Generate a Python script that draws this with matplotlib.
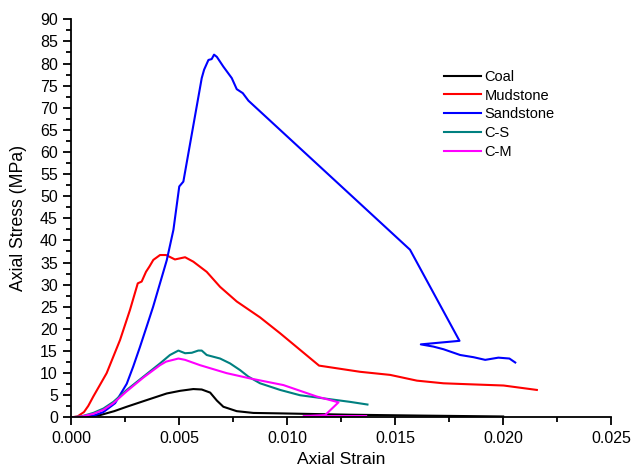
import matplotlib
matplotlib.use("Agg")
import matplotlib.pyplot as plt
from matplotlib.ticker import MultipleLocator, FormatStrFormatter

plt.rcParams['font.family'] = ['Liberation Sans', 'DejaVu Sans']

coal_x = [0, 0.0007, 0.00134, 0.0020, 0.00258, 0.00350, 0.00443, 0.00505, 0.00566,
          0.00605, 0.00644, 0.00675, 0.00705, 0.00767, 0.00844, 0.00968, 0.0129,
          0.0162, 0.0200]
coal_y = [0, 0.15, 0.5, 1.4, 2.4, 3.9, 5.4, 6.0, 6.4, 6.3, 5.6, 3.8, 2.4, 1.4, 1.0, 0.9,
          0.6, 0.4, 0.2]

mud_x = [0, 0.0003, 0.0006, 0.0008, 0.00103, 0.0013, 0.00165, 0.00227, 0.00273,
         0.00309, 0.00327, 0.00347, 0.00363, 0.00381, 0.00412, 0.00440, 0.00481,
         0.00528, 0.00566, 0.00628, 0.00690, 0.00767, 0.00875, 0.00968, 0.01148,
         0.01338, 0.01477, 0.01601, 0.01724, 0.01832, 0.02002, 0.02156]
mud_y = [0, 0.2, 1.2, 2.6, 4.7, 7.0, 10.0, 17.5, 24.3, 30.3, 30.7, 32.9, 34.1, 35.6,
         36.7, 36.7, 35.7, 36.2, 35.2, 32.9, 29.5, 26.2, 22.6, 19.0, 11.7, 10.3, 9.6,
         8.3, 7.7, 7.5, 7.2, 6.2]

sand_x = [0, 0.0005, 0.0010, 0.0015, 0.00204, 0.00258, 0.00288, 0.00319, 0.0035,
          0.00380, 0.00443, 0.00474, 0.00501, 0.00520, 0.00605, 0.00616, 0.00636,
          0.00651, 0.00662, 0.00675, 0.00705, 0.00744, 0.00767, 0.00795, 0.00821,
          0.01569, 0.01798, 0.01619, 0.01677, 0.01724, 0.01801, 0.01863, 0.01917,
          0.01978, 0.02029, 0.02056]
sand_y = [0, 0.05, 0.3, 1.2, 3.2, 7.6, 11.5, 15.9, 20.5, 25.0, 35.5, 42.4, 52.2, 53.3,
          76.7, 78.6, 80.8, 81.0, 82.0, 81.5, 79.3, 76.7, 74.2, 73.3, 71.6, 37.9, 17.3,
          16.5, 16.0, 15.4, 14.1, 13.6, 13.0, 13.5, 13.3, 12.4]

cs_x = [0, 0.0005, 0.00103, 0.00150, 0.00196, 0.00258, 0.00335, 0.00412, 0.00458,
        0.00497, 0.00528, 0.00559, 0.00589, 0.00605, 0.00628, 0.00690, 0.00736,
        0.00782, 0.00821, 0.00875, 0.00968, 0.01060, 0.01168, 0.01292, 0.01372]
cs_y = [0, 0.25, 1.0, 2.0, 3.5, 6.2, 9.2, 12.2, 14.1, 15.1, 14.5, 14.6, 15.1, 15.1, 14.1,
        13.3, 12.2, 10.7, 9.2, 7.7, 6.2, 5.0, 4.3, 3.5, 2.9]

cm_x = [0, 0.0005, 0.00103, 0.00150, 0.00196, 0.00258, 0.00335, 0.00412, 0.00440,
        0.00497, 0.00528, 0.00597, 0.00720, 0.00829, 0.00983, 0.01138, 0.01238,
        0.01176, 0.01076, 0.01366]
cm_y = [0, 0.2, 0.8, 1.7, 3.2, 5.9, 9.0, 11.8, 12.6, 13.3, 13.0, 11.8, 10.0, 8.8, 7.3,
        4.7, 3.4, 0.5, 0.3, 0.3]

series = [("Coal", coal_x, coal_y, "#000000"),
          ("Mudstone", mud_x, mud_y, "#ff0000"),
          ("Sandstone", sand_x, sand_y, "#0000ff"),
          ("C-S", cs_x, cs_y, "#008080"),
          ("C-M", cm_x, cm_y, "#ff00ff")]

fig = plt.figure(figsize=(6.34, 4.70), dpi=100)
ax = fig.add_axes([0.112, 0.112, 0.852, 0.847])

for name, xs, ys, c in series:
    ax.plot(xs, ys, color=c, lw=1.5, label=name)

ax.set_xlim(0, 0.025)
ax.set_ylim(0, 90)
ax.xaxis.set_major_locator(MultipleLocator(0.005))
ax.xaxis.set_minor_locator(MultipleLocator(0.0025))
ax.yaxis.set_major_locator(MultipleLocator(5))
ax.yaxis.set_minor_locator(MultipleLocator(2.5))
ax.xaxis.set_major_formatter(FormatStrFormatter('%.3f'))
ax.yaxis.set_major_formatter(FormatStrFormatter('%d'))

for s in ['top', 'right']:
    ax.spines[s].set_visible(False)
for s in ['left', 'bottom']:
    ax.spines[s].set_linewidth(1.3)
ax.tick_params(which='major', direction='out', length=6, width=1.3, labelsize=11.5)
ax.tick_params(which='minor', direction='out', length=3.5, width=1.3)

ax.set_xlabel("Axial Strain", fontsize=12.6, labelpad=5)
ax.set_ylabel("Axial Stress (MPa)", fontsize=12.7, labelpad=9)

leg = ax.legend(loc='upper left', bbox_to_anchor=(0.680, 0.888), frameon=False,
                fontsize=10.5, handlelength=2.5, handletextpad=0.27, labelspacing=0.33,
                borderaxespad=0)
for l in leg.get_lines():
    l.set_linewidth(1.5)

fig.savefig("out.png", dpi=100)
